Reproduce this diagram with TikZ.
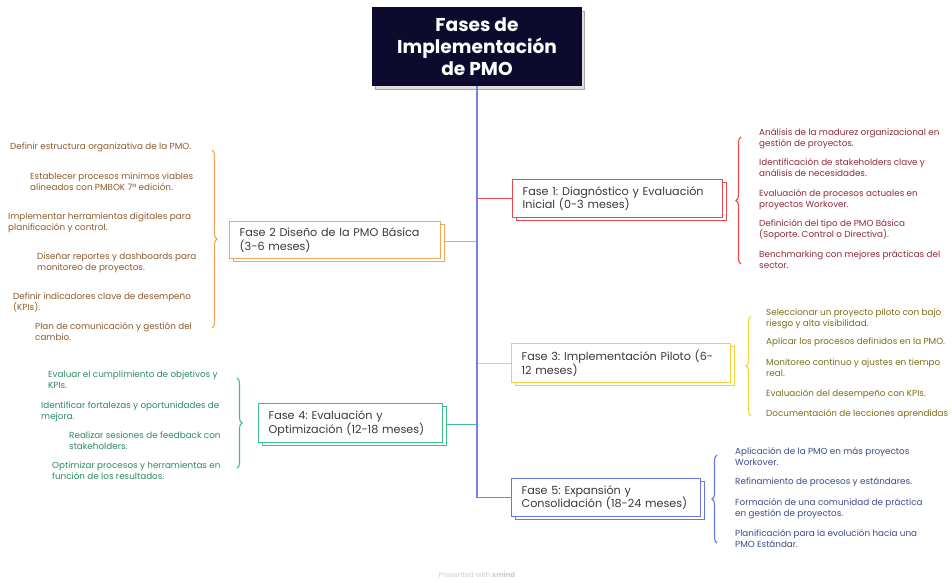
\documentclass[tikz,border=0pt]{standalone}
\usepackage{fontspec}
\setmainfont{Poppins}
\usetikzlibrary{shadows,decorations.pathreplacing}

\definecolor{navy}{HTML}{0C0B2E}
\definecolor{trunk}{HTML}{7083E6}
\definecolor{redB}{HTML}{E9484F}
\definecolor{redT}{HTML}{8E2A36}
\definecolor{oraB}{HTML}{F2A65A}
\definecolor{oraT}{HTML}{8B5A2B}
\definecolor{yelB}{HTML}{F2D33C}
\definecolor{yelT}{HTML}{7D6B16}
\definecolor{grnB}{HTML}{3DBE8B}
\definecolor{grnT}{HTML}{2B8A60}
\definecolor{bluB}{HTML}{6679E0}
\definecolor{bluT}{HTML}{3B4A8C}
\definecolor{boxT}{HTML}{3A3A3A}

% multi-line text block whose baseline is its first line
\newcommand{\itemlines}[1]{\begin{tabular}[t]{@{}l@{}}#1\end{tabular}}

\tikzset{
  phase/.style={draw=#1, fill=white, line width=1.3pt, anchor=north west,
    align=left, inner xsep=10pt, inner ysep=3pt, text=boxT,
    font=\fontsize{11.2}{13.8}\selectfont,
    copy shadow={shadow xshift=4pt, shadow yshift=-3pt}},
  item/.style={inner sep=0pt, text=#1, font=\fontsize{8.8}{11.6}\selectfont},
  link/.style={draw=#1, line width=1.3pt},
  cbrace/.style={draw=#1, line width=1.1pt, decorate,
    decoration={brace, amplitude=5pt}},
}

\begin{document}
\frenchspacing
\begin{tikzpicture}[x=1pt, y=-1pt]
\useasboundingbox (0,0) rectangle (952,582);

% title
\node[draw=navy, fill=navy, text=white, anchor=north west, minimum width=209pt,
  minimum height=78pt, align=center, line width=1pt,
  font=\fontsize{18.6}{22}\selectfont\bfseries,
  copy shadow={shadow xshift=2.5pt, shadow yshift=-4pt, draw=gray!70, fill=gray!25}]
  (title) at (372,7) {Fases de\\Implementación\\de PMO};

% phase boxes
\node[phase=redB, text width=190pt, minimum height=38pt] (f1) at (512,179)
  {Fase 1: Diagnóstico y Evaluación\\Inicial (0-3 meses)};
\node[phase=oraB, text width=191pt, minimum height=37pt] (f2) at (229,221)
  {Fase 2 Diseño de la PMO Básica\\(3-6 meses)};
\node[phase=yelB, text width=199pt, minimum height=39pt] (f3) at (511,343)
  {Fase 3: Implementación Piloto (6-\\12 meses)};
\node[phase=grnB, text width=164pt, minimum height=39pt] (f4) at (258,403)
  {Fase 4: Evaluación y\\Optimización (12-18 meses)};
\node[phase=bluB, text width=169pt, minimum height=38pt] (f5) at (511,478)
  {Fase 5: Expansión y\\Consolidación (18-24 meses)};

% trunk and branches
\coordinate (j1) at (title.south |- f1.west);
\coordinate (j2) at (title.south |- f2.east);
\coordinate (j3) at (title.south |- f3.west);
\coordinate (j4) at (title.south |- f4.east);
\coordinate (j5) at (title.south |- f5.west);
\draw[link=redB] (j1) -- (f1.west);
\draw[link=oraB] ([xshift=4pt,yshift=-1.5pt]f2.east) -- ([yshift=-1.5pt]j2);
\draw[link=yelB] (j3) -- (f3.west);
\draw[link=grnB] ([xshift=4pt,yshift=-1.5pt]f4.east) -- ([yshift=-1.5pt]j4);
\draw[link=trunk] (title.south) -- (j5) -- (f5.west);

% braces
\draw[cbrace=redB] (741,264) -- (741,137);
\draw[cbrace=oraB] (212,150) -- (212,328);
\draw[cbrace=yelB] (751,416) -- (751,316);
\draw[cbrace=grnB] (237,378) -- (237,468);
\draw[cbrace=bluB] (717,543) -- (717,455);

% fase 1 items
\begin{scope}[every node/.style={item=redT, anchor=base west}]
\node (r1) at (759,135) {\itemlines{Análisis de la madurez organizacional en\\gestión de proyectos.}};
\node (r2) at (759,165) {\itemlines{Identificación de stakeholders clave y\\análisis de necesidades.}};
\node (r3) at (759,196) {\itemlines{Evaluación de procesos actuales en\\proyectos Workover.}};
\node (r4) at (759,226) {\itemlines{Definición del tipo de PMO Básica\\(Soporte. Control o Directiva).}};
\node (r5) at (759,257) {\itemlines{Benchmarking con mejores prácticas del\\sector.}};
\end{scope}

% fase 2 items
\begin{scope}[every node/.style={item=oraT, anchor=base west}]
\node (o1) at (10,149) {\itemlines{Definir estructura organizativa de la PMO.}};
\node (o2) at (30,179) {\itemlines{Establecer procesos mínimos viables\\alineados con PMBOK 7ª edición.}};
\node (o3) at (8,219) {\itemlines{Implementar herramientas digitales para\\planificación y control.}};
\node (o4) at (37,259) {\itemlines{Diseñar reportes y dashboards para\\monitoreo de proyectos.}};
\node (o5) at (13,299) {\itemlines{Definir indicadores clave de desempeño\\(KPIs).}};
\node (o6) at (35,329) {\itemlines{Plan de comunicación y gestión del\\cambio.}};
\end{scope}

% fase 3 items
\begin{scope}[every node/.style={item=yelT, anchor=base west}]
\node (y1) at (766,315) {\itemlines{Seleccionar un proyecto piloto con bajo\\riesgo y alta visibilidad.}};
\node (y2) at (766,344) {\itemlines{Aplicar los procesos definidos en la PMO.}};
\node (y3) at (766,365) {\itemlines{Monitoreo continuo y ajustes en tiempo\\real.}};
\node (y4) at (766,396) {\itemlines{Evaluación del desempeño con KPIs.}};
\node (y5) at (766,416) {\itemlines{Documentación de lecciones aprendidas}};
\end{scope}

% fase 4 items
\begin{scope}[every node/.style={item=grnT, anchor=base west}]
\node (g1) at (48,377) {\itemlines{Evaluar el cumplimiento de objetivos y\\KPIs.}};
\node (g2) at (41,408) {\itemlines{Identificar fortalezas y oportunidades de\\mejora.}};
\node (g3) at (69,438) {\itemlines{Realizar sesiones de feedback con\\stakeholders.}};
\node (g4) at (52,468) {\itemlines{Optimizar procesos y herramientas en\\función de los resultados.}};
\end{scope}

% fase 5 items
\begin{scope}[every node/.style={item=bluT, anchor=base west}]
\node (b1) at (735,454) {\itemlines{Aplicación de la PMO en más proyectos\\Workover.}};
\node (b2) at (735,484) {\itemlines{Refinamiento de procesos y estándares.}};
\node (b3) at (735,505) {\itemlines{Formación de una comunidad de práctica\\en gestión de proyectos.}};
\node (b4) at (735,536) {\itemlines{Planificación para la evolución hacia una\\PMO Estándar.}};
\end{scope}

% footer
\node[text=gray!40, font=\fontsize{7}{8}\selectfont] (footer) at (477,575)
  {Presented with \textbf{xmind}};
\end{tikzpicture}
\end{document}
